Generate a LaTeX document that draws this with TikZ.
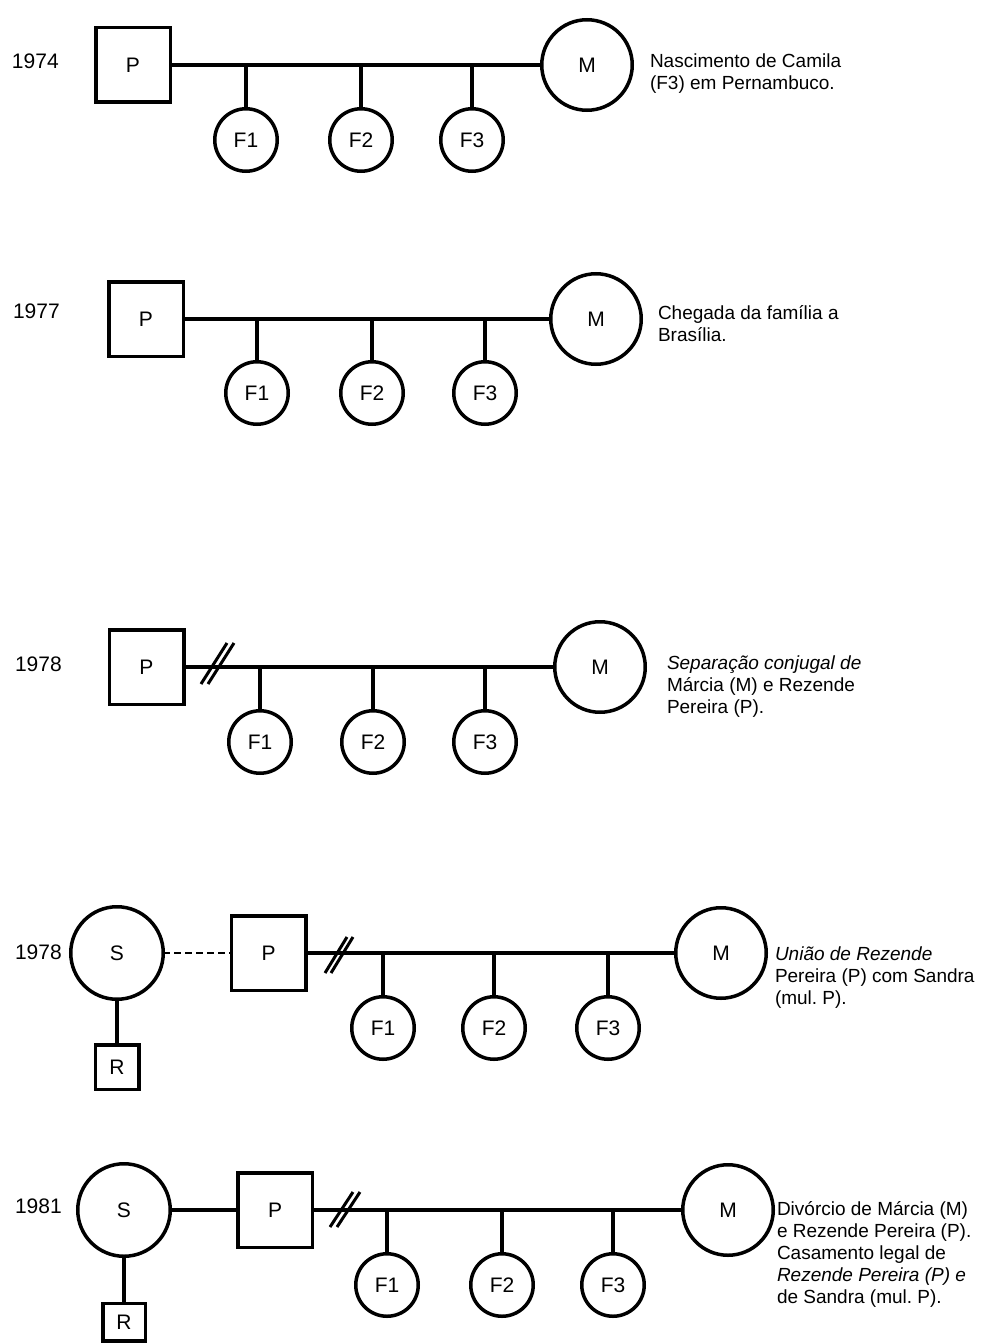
\documentclass[tikz,border=0pt]{standalone}
\usepackage{fontspec}
\setmainfont{Liberation Sans}
\begin{document}
\frenchspacing
\begin{tikzpicture}[x=1pt,y=-1pt,
  every node/.style={inner sep=0pt, outer sep=0pt},
  lw/.style={line width=3.5pt},
  lbl/.style={font=\fontsize{21}{24}\selectfont},
  sq/.style={draw, lw, lbl, minimum size=74.5pt},
  rsq/.style={draw, lw, lbl, minimum width=43.5pt, minimum height=44.5pt},
  kid/.style={circle, draw, lw, lbl, minimum size=62.5pt},
  mom/.style={circle, draw, lw, lbl, minimum size=90.5pt},
  yr/.style={anchor=west, font=\fontsize{21}{24}\selectfont},
  desc/.style={anchor=north west, align=left, font=\fontsize{19}{22}\selectfont},
  bar/.style={line width=3.5pt},
  slashl/.style={line width=3pt},
  dsh/.style={line width=2.4pt, dash pattern=on 7pt off 4pt},
]
\useasboundingbox (0,0) rectangle (987,1343);

% ---------- 1974 ----------
\node[yr] (y1) at (12,61) {1974};
\node[sq] (P1) at (133,65) {P};
\node[mom] (M1) at (587,65) {M};
\node[kid] (F11) at (246,140) {F1};
\node[kid] (F12) at (361,140) {F2};
\node[kid] (F13) at (472,140) {F3};
\draw[bar] (P1) -- (M1);
\foreach \f in {F11,F12,F13} \draw[bar] (\f |- P1) -- (\f);
\node[desc] (t1) at (650,54) {Nascimento de Camila\\(F3) em Pernambuco.};

% ---------- 1977 ----------
\node[yr] (y2) at (13,311) {1977};
\node[sq] (P2) at (146,319) {P};
\node[mom] (M2) at (596,319) {M};
\node[kid] (F21) at (257,393) {F1};
\node[kid] (F22) at (372,393) {F2};
\node[kid] (F23) at (485,393) {F3};
\draw[bar] (P2) -- (M2);
\foreach \f in {F21,F22,F23} \draw[bar] (\f |- P2) -- (\f);
\node[desc] (t2) at (658,306) {Chegada da família a\\Brasília.};

% ---------- 1978 separation ----------
\node[yr] (y3) at (15,664) {1978};
\node[sq] (P3) at (146.5,667) {P};
\node[mom] (M3) at (600,667) {M};
\node[kid] (F31) at (260,742) {F1};
\node[kid] (F32) at (373,742) {F2};
\node[kid] (F33) at (485,742) {F3};
\draw[bar] (P3) -- (M3);
\foreach \f in {F31,F32,F33} \draw[bar] (\f |- P3) -- (\f);
\coordinate (sl3) at (217,664);
\draw[slashl] (sl3) ++(-16,20) -- ++(26,-41);
\draw[slashl] (sl3) ++(-9,20) -- ++(26,-41);
\node[desc] (t3) at (667,656) {\textit{Separação conjugal de}\\Márcia (M) e Rezende\\Pereira (P).};

% ---------- 1978 union ----------
\node[yr] (y4) at (15,952) {1978};
\node[mom, minimum size=92.5pt] (S4) at (117,953) {S};
\node[sq] (P4) at (268.5,953) {P};
\node[rsq] (R4) at (117,1067) {R};
\node[mom] (M4) at (721,953) {M};
\node[kid] (F41) at (383,1028) {F1};
\node[kid] (F42) at (494,1028) {F2};
\node[kid] (F43) at (608,1028) {F3};
\draw[dsh] (S4) -- (P4);
\draw[bar] (S4) -- (R4);
\draw[bar] (P4) -- (M4);
\foreach \f in {F41,F42,F43} \draw[bar] (\f |- P4) -- (\f);
\coordinate (sl4) at (339,955);
\draw[slashl] (sl4) ++(-14,18) -- ++(22,-36);
\draw[slashl] (sl4) ++(-8,18) -- ++(22,-36);
\node[desc] (t4) at (775,947) {\textit{União de Rezende}\\Pereira (P) com Sandra\\(mul. P).};

% ---------- 1981 ----------
\node[yr] (y5) at (15,1206) {1981};
\node[mom, minimum size=92.5pt] (S5) at (124,1210) {S};
\node[sq] (P5) at (275,1210) {P};
\node[rsq, minimum width=42.5pt, minimum height=37.5pt] (R5) at (124,1322) {R};
\node[mom] (M5) at (728,1210) {M};
\node[kid] (F51) at (387,1285) {F1};
\node[kid] (F52) at (502,1285) {F2};
\node[kid] (F53) at (613,1285) {F3};
\draw[bar] (S5) -- (P5);
\draw[bar] (S5) -- (R5);
\draw[bar] (P5) -- (M5);
\foreach \f in {F51,F52,F53} \draw[bar] (\f |- P5) -- (\f);
\coordinate (sl5) at (345,1210);
\draw[slashl] (sl5) ++(-15,17) -- ++(23,-35);
\draw[slashl] (sl5) ++(-8,17) -- ++(23,-35);
\node[desc] (t5) at (777,1201) {Divórcio de Márcia (M)\\e Rezende Pereira (P).\\Casamento legal de\\\textit{Rezende Pereira (P) e}\\de Sandra (mul. P).};
\end{tikzpicture}
\end{document}
